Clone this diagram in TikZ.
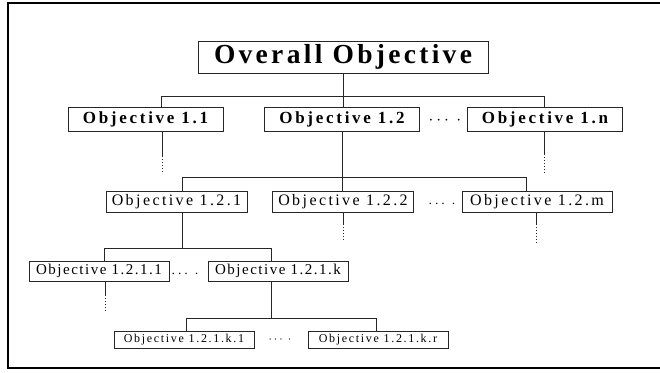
\documentclass[tikz,border=0pt]{standalone}
\usepackage{fontspec}
\setmainfont{Liberation Serif}
\begin{document}
\begin{tikzpicture}[x=1pt,y=-1pt,
  obj/.style={draw=black!85, line width=0.9pt, inner sep=0pt, anchor=center},
  lvTop/.style={obj, minimum width=290pt, minimum height=32pt,
     font=\fontsize{27.5}{27.5}\selectfont\bfseries\addfontfeatures{LetterSpace=12}},
  lvA/.style={obj, minimum width=155pt, minimum height=24pt,
     font=\fontsize{17}{17}\selectfont\bfseries\addfontfeatures{LetterSpace=16}},
  lvB/.style={obj, minimum width=141pt, minimum height=21pt,
     font=\fontsize{16}{16}\selectfont\addfontfeatures{LetterSpace=15}},
  lvC/.style={obj, minimum width=140pt, minimum height=20pt,
     font=\fontsize{15}{15}\selectfont\addfontfeatures{LetterSpace=10}},
  lvD/.style={obj, minimum width=140pt, minimum height=17pt,
     font=\fontsize{12}{12}\selectfont\addfontfeatures{LetterSpace=14}},
  link/.style={draw=black!85, line width=0.9pt},
  dotlink/.style={draw=black!85, line width=1pt, dotted},
  ell/.style={inner sep=0pt, anchor=center}
]
\useasboundingbox (0,0) rectangle (660,372);
\draw[line width=2pt] (660,3) -- (8,3) -- (8,368) -- (660,368);

% nodes
\node[lvTop] (top) at (343,57) {Overall Objective};
\node[lvA] (o11) at (145.5,119) {Objective 1.1};
\node[lvA] (o12) at (342,119) {Objective 1.2};
\node[lvA] (o1n) at (545,119) {Objective 1.n};
\node[lvB] (o121) at (176.5,201.5) {Objective 1.2.1};
\node[lvB] (o122) at (343,201.5) {Objective 1.2.2};
\node[lvB, minimum width=150pt] (o12m) at (537,201.5) {Objective 1.2.m};
\node[lvC] (o1211) at (99,271) {Objective 1.2.1.1};
\node[lvC] (o121k) at (278,271) {Objective 1.2.1.k};
\node[lvD] (k1) at (184,339.5) {Objective 1.2.1.k.1};
\node[lvD] (kr) at (378,339.5) {Objective 1.2.1.k.r};

% ellipses
\node[ell, font=\fontsize{17}{17}\selectfont] (d1) at (445,121) {$\cdots\;\cdot$};
\node[ell, font=\fontsize{15}{15}\selectfont] (d2) at (442,204) {$\cdots\;\cdot$};
\node[ell, font=\fontsize{14}{14}\selectfont] (d3) at (185,274) {$\cdots\;\cdot$};
\node[ell, font=\fontsize{12}{12}\selectfont] (d4) at (280,340) {$\cdots\;\cdot$};

% level 1
\coordinate (b1L) at (161,96);
\coordinate (b1R) at (544,96);
\draw[link] (top.south) -- (top.south |- o12.north);
\draw[link] (o11.north -| b1L) -- (b1L) -- (b1R) -- (o1n.north -| b1R);

\coordinate (s11) at (162,156); \coordinate (e11) at (162,174);
\draw[link] (o11.south -| s11) -- (s11);
\draw[dotlink] (s11) -- (e11);
\coordinate (s1n) at (544,154); \coordinate (e1n) at (544,173);
\draw[link] (o1n.south -| s1n) -- (s1n);
\draw[dotlink] (s1n) -- (e1n);

% level 2
\coordinate (b2L) at (182,177);
\coordinate (b2R) at (526,177);
\draw[link] (o12.south) -- (o12.south |- o122.north);
\draw[link] (o121.north -| b2L) -- (b2L) -- (b2R) -- (o12m.north -| b2R);

\coordinate (s122) at (343,224); \coordinate (e122) at (343,242);
\draw[link] (o122.south -| s122) -- (s122);
\draw[dotlink] (s122) -- (e122);
\coordinate (s12m) at (536,224); \coordinate (e12m) at (536,244);
\draw[link] (o12m.south -| s12m) -- (s12m);
\draw[dotlink] (s12m) -- (e12m);

% level 3
\coordinate (b3T) at (182,248);
\coordinate (b3L) at (104,248);
\coordinate (b3R) at (271,248);
\draw[link] (o121.south -| b3T) -- (b3T);
\draw[link] (o1211.north -| b3L) -- (b3L) -- (b3R) -- (o121k.north -| b3R);

\coordinate (s1211) at (105,295); \coordinate (e1211) at (105,311);
\draw[link] (o1211.south -| s1211) -- (s1211);
\draw[dotlink] (s1211) -- (e1211);

% level 4
\coordinate (b4T) at (271,318);
\coordinate (b4L) at (186,318);
\coordinate (b4R) at (376,318);
\draw[link] (o121k.south -| b4T) -- (b4T);
\draw[link] (k1.north -| b4L) -- (b4L) -- (b4R) -- (kr.north -| b4R);
\end{tikzpicture}
\end{document}
